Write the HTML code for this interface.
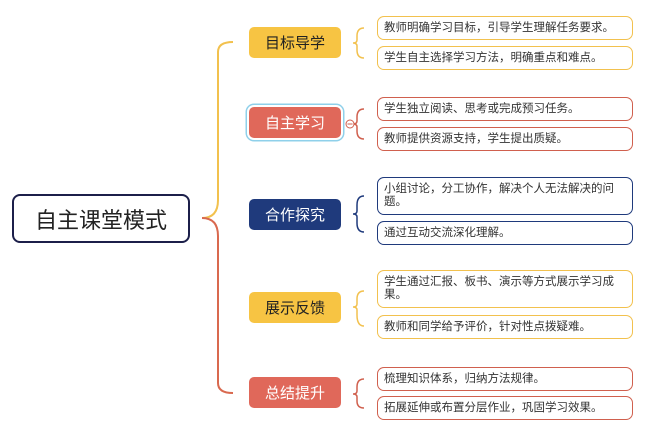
<!DOCTYPE html>
<html><head><meta charset="utf-8"><style>
body{margin:0;width:650px;height:435px;background:#fff;position:relative;overflow:hidden;font-family:"Liberation Sans","Noto Sans CJK SC",sans-serif}
.a{position:absolute;box-sizing:border-box}
.root{left:12px;top:194px;width:178px;height:49px;border:2px solid #1c1f4a;border-radius:8px;font-size:22px;color:#222;display:flex;align-items:center;justify-content:center}
.n{left:249px;width:92px;height:31px;border-radius:5px;font-size:15px;display:flex;align-items:center;justify-content:center}
.y{background:#f7c443;color:#222}
.r{background:#e0685a;color:#fff}
.b{background:#1f3a7c;color:#fff}
.l{left:377px;width:256px;border:1.5px solid;border-radius:7px;font-size:11.5px;color:#333;padding:3px 6px;line-height:13px;display:flex;align-items:center}
.ly{border-color:#f2c14e}.lr{border-color:#d0604e}.lb{border-color:#1f3a7c}
</style></head><body>
<svg class="a" style="left:0;top:0" width="650" height="435">
<g fill="none" stroke-width="2">
<path d="M202 218 Q218 218 218 200 L218 52 Q218 42 233 42" stroke="#f2c14e"/>
<path d="M202 218 Q218 218 218 236 L218 383 Q218 393 233 393" stroke="#d9694f"/>
<path d="M364 28 Q357 28 357 36 L357 40 Q357 43 353 43 Q357 43 357 46 L357 50 Q357 58 364 58" stroke="#f2c14e" stroke-width="1.5"/>
<path d="M364 109 Q357 109 357 117 L357 121 Q357 124 353 124 Q357 124 357 127 L357 131 Q357 139 364 139" stroke="#d0604e" stroke-width="1.5"/>
<path d="M364 196 Q357 196 357 205 L357 211 Q357 214 353 214 Q357 214 357 217 L357 223 Q357 232 364 232" stroke="#1f3a7c" stroke-width="1.5"/>
<path d="M364 291 Q357 291 357 299 L357 304 Q357 307 353 307 Q357 307 357 310 L357 315 Q357 326 364 326" stroke="#f2c14e" stroke-width="1.5"/>
<path d="M364 379 Q357 379 357 387 L357 391 Q357 394 353 394 Q357 394 357 397 L357 401 Q357 408 364 408" stroke="#d0604e" stroke-width="1.5"/>
<circle cx="350" cy="124" r="4" stroke="#d0604e" stroke-width="1" fill="#fff"/>
<line x1="347.5" y1="124" x2="352.5" y2="124" stroke="#d0604e" stroke-width="1"/>
</g></svg>
<div class="a root">自主课堂模式</div>
<div class="a n y" style="top:27px">目标导学</div>
<div class="a n r" style="top:107px;box-shadow:0 0 0 2px #fff,0 0 0 3.5px #8fd0ea">自主学习</div>
<div class="a n b" style="top:199px">合作探究</div>
<div class="a n y" style="top:292px">展示反馈</div>
<div class="a n r" style="top:377px">总结提升</div>
<div class="a l ly" style="top:16px;height:24px">教师明确学习目标，引导学生理解任务要求。</div>
<div class="a l ly" style="top:46px;height:24px">学生自主选择学习方法，明确重点和难点。</div>
<div class="a l lr" style="top:97px;height:24px">学生独立阅读、思考或完成预习任务。</div>
<div class="a l lr" style="top:127px;height:24px">教师提供资源支持，学生提出质疑。</div>
<div class="a l lb" style="top:177px;height:38px">小组讨论，分工协作，解决个人无法解决的问题。</div>
<div class="a l lb" style="top:221px;height:24px">通过互动交流深化理解。</div>
<div class="a l ly" style="top:270px;height:38px">学生通过汇报、板书、演示等方式展示学习成果。</div>
<div class="a l ly" style="top:315px;height:24px">教师和同学给予评价，针对性点拨疑难。</div>
<div class="a l lr" style="top:367px;height:24px">梳理知识体系，归纳方法规律。</div>
<div class="a l lr" style="top:396px;height:24px">拓展延伸或布置分层作业，巩固学习效果。</div>
</body></html>
